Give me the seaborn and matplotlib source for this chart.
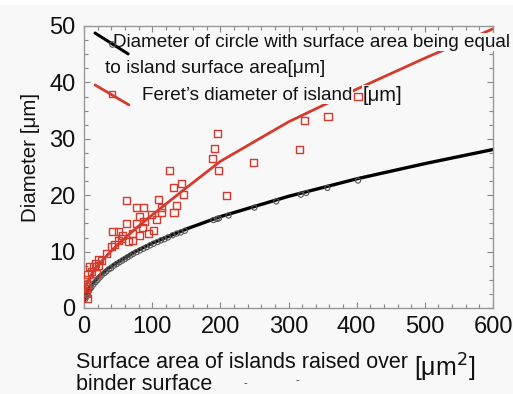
import numpy as np
import pandas as pd
import matplotlib
matplotlib.use("Agg")
import matplotlib.pyplot as plt
import seaborn as sns
from matplotlib.ticker import MultipleLocator
from matplotlib.patches import Rectangle

# Island measurements: surface area [um^2] vs. diameters [um]
circle_area = [2, 3, 4, 5, 7, 9, 11, 14, 17, 20, 23, 26, 30, 33, 37, 40, 44, 48,
               52, 56, 60, 64, 68, 72, 77, 82, 87, 92, 97, 102, 108, 113, 118,
               123, 130, 136, 142, 148, 190, 195, 198, 212, 250, 282, 318, 326,
               357, 402]
circle_diam = [1.6, 2.0, 2.3, 2.5, 3.0, 3.4, 3.7, 4.2, 4.6, 5.0, 5.4, 5.8, 6.2,
               6.5, 6.9, 7.1, 7.5, 7.8, 8.1, 8.4, 8.7, 9.0, 9.3, 9.6, 9.9, 10.2,
               10.5, 10.8, 11.1, 11.4, 11.7, 12.0, 12.2, 12.5, 12.9, 13.2, 13.4,
               13.7, 15.6, 15.8, 15.9, 16.4, 17.8, 18.9, 20.1, 20.4, 21.3, 22.6]

feret_area = [4.8, 3.4, 3.4, 4.8, 3.4, 5.9, 10.7, 18, 8.3, 14.7, 17, 21, 22, 26,
              33, 40, 45, 55, 50, 42.5, 50, 57, 62.6, 65, 71.5, 71.5, 62, 77, 87,
              77, 82, 88, 86, 82, 94, 102, 99, 106.5, 114, 114, 109, 132, 136,
              131, 125, 143, 146, 189, 192, 196, 197, 209, 248, 316, 324, 358,
              402]
feret_diam = [1.7, 2.6, 3.5, 4.1, 5.0, 5.9, 6.4, 6.1, 7.3, 7.3, 7.9, 7.6, 8.6,
              8.4, 9.7, 10.9, 11.2, 12.4, 12.0, 13.5, 13.5, 12.9, 15.0, 11.8,
              11.9, 13.2, 19.0, 17.8, 17.8, 15.0, 16.3, 15.3, 14.2, 12.9, 13.2,
              13.8, 16.5, 15.7, 16.9, 17.9, 19.3, 17.0, 18.1, 21.4, 24.3, 22.1,
              20.2, 26.5, 28.3, 30.9, 24.3, 20.0, 25.8, 28.1, 33.2, 33.9, 37.5]

# Fitted trend curves
circle_fit_x = [1, 3, 6, 10, 20, 35, 50, 75, 100, 150, 200, 250, 300, 400, 500, 600]
circle_fit_y = [1.5, 2.4, 3.2, 4.0, 5.4, 7.0, 8.2, 10.0, 11.5, 14.0, 16.2, 18.0,
                19.8, 22.9, 25.6, 28.1]
feret_fit_x = [1, 5, 10, 20, 35, 50, 75, 100, 150, 200, 250, 300, 400, 500, 600]
feret_fit_y = [3.2, 4.5, 5.8, 7.5, 9.5, 11.3, 14.0, 16.5, 21.3, 26.0, 29.5, 33.0,
               38.8, 44.3, 49.5]

BG = "#f8f8f8"
RED = "#d63a2c"
GRAY_EDGE = "#555555"

sns.set_theme(style="ticks")
plt.rcParams["font.family"] = ["Liberation Sans", "DejaVu Sans"]

fig = plt.figure(figsize=(5.13, 3.94), dpi=100, facecolor=BG)
fig.patches.append(Rectangle((0, 1 - 5 / 394), 1, 5 / 394, transform=fig.transFigure,
                             facecolor="white", edgecolor="none", zorder=0))
ax = fig.add_axes([84 / 513, 86 / 394, 409 / 513, 282 / 394])
ax.set_facecolor(BG)

sns.lineplot(x=circle_fit_x, y=circle_fit_y, ax=ax, color="black", lw=2.4,
             sort=True, zorder=2)
sns.lineplot(x=feret_fit_x, y=feret_fit_y, ax=ax, color=RED, lw=2.0,
             sort=True, zorder=2)
sns.scatterplot(x=circle_area, y=circle_diam, ax=ax, marker="o", s=14,
                facecolor="none", edgecolor=GRAY_EDGE, linewidth=0.8, zorder=5)
sns.scatterplot(x=feret_area, y=feret_diam, ax=ax, marker="s", s=26,
                facecolor="none", edgecolor=RED, linewidth=1.0, zorder=5)

ax.set_xlim(0, 600)
ax.set_ylim(0, 50)
ax.xaxis.set_major_locator(MultipleLocator(100))
ax.xaxis.set_minor_locator(MultipleLocator(20))
ax.yaxis.set_major_locator(MultipleLocator(10))
ax.yaxis.set_minor_locator(MultipleLocator(2.5))
ax.tick_params(which="both", direction="in", top=True, right=True,
               color="#888888", width=0.8)
ax.tick_params(which="major", length=4, labelsize=17, pad=6, labelcolor="#111111")
ax.tick_params(which="minor", length=3)
for sp in ax.spines.values():
    sp.set_color("#999999")
    sp.set_linewidth(1.0)

# Legend drawn as individual entries
box = dict(facecolor=BG, edgecolor="none", pad=0.6)
ax.plot([0.027, 0.108], [0.975, 0.901], transform=ax.transAxes, color="black",
        lw=2.2, zorder=6, clip_on=False)
ax.plot([0.068], [0.936], transform=ax.transAxes, marker="o", ms=4,
        mfc="none", mec=GRAY_EDGE, mew=0.8, zorder=6)
ax.plot([0.027, 0.110], [0.791, 0.720], transform=ax.transAxes, color=RED,
        lw=2.0, zorder=6)
ax.plot([0.068], [0.759], transform=ax.transAxes, marker="s", ms=5,
        mfc="none", mec=RED, mew=1.0, zorder=6)

ax.text(0.071, 0.943, "Diameter of circle with surface area being equal",
        transform=ax.transAxes, fontsize=13.6, va="center", ha="left",
        color="#111111", bbox=box, zorder=4, clip_on=False)
ax.text(0.051, 0.848, "to island surface area[μm]", transform=ax.transAxes,
        fontsize=13.8, va="center", ha="left", color="#111111", bbox=box, zorder=4)
ax.text(0.142, 0.755, "Feret’s diameter of island", transform=ax.transAxes,
        fontsize=13.6, va="center", ha="left", color="#111111", bbox=box, zorder=4)
ax.text(0.682, 0.755, "[μm]", transform=ax.transAxes,
        fontsize=14.5, va="center", ha="left", color="#111111", bbox=box, zorder=4)

ax.set_xlabel("")
ax.set_ylabel("")
fig.text(30 / 513, 1 - 157 / 394, "Diameter [μm]", rotation=90, fontsize=14.8,
         ha="center", va="center", color="#111111")
fig.text(76 / 513, 1 - 368 / 394, "Surface area of islands raised over",
         fontsize=15.5, ha="left", va="baseline", color="#111111")
fig.text(76 / 513, 1 - 390 / 394, "binder surface",
         fontsize=15.5, ha="left", va="baseline", color="#111111")
fig.text(445 / 513, 1 - 368 / 394, "[μm$^2$]", fontsize=18, ha="center",
         va="center", color="#111111")
fig.text(245 / 513, 1 - 383 / 394, "-", fontsize=8, ha="center", va="center",
         color="#333333")
fig.text(297 / 513, 1 - 380 / 394, "-", fontsize=8, ha="center", va="center",
         color="#333333")

fig.savefig("out.png", dpi=100, facecolor=BG)
